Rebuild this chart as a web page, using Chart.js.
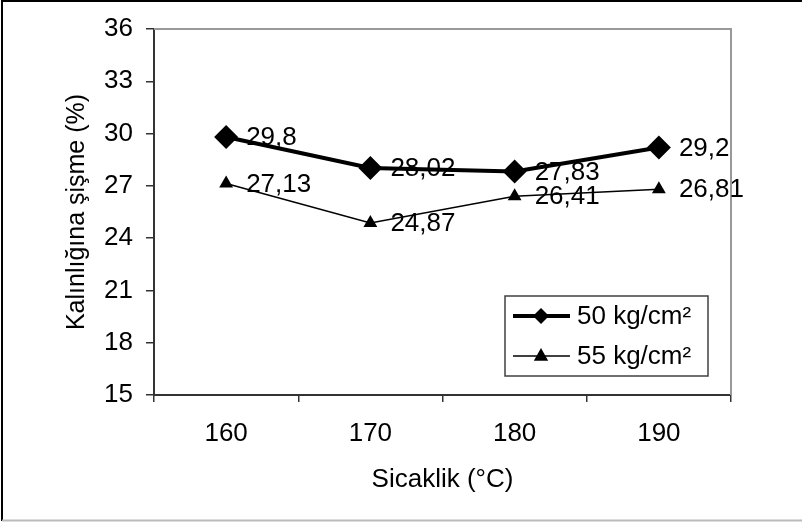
<!DOCTYPE html>
<html>
<head>
<meta charset="utf-8">
<script src="https://cdn.jsdelivr.net/npm/chart.js@4.4.1/dist/chart.umd.min.js"></script>
<style>
  body { margin: 0; background: #fff; }
  canvas { display: block; }
</style>
</head>
<body>
<canvas id="chart" width="802" height="522"></canvas>
<script>
// Data
const temperatures = ['160', '170', '180', '190'];
const series50 = [29.8, 28.02, 27.83, 29.2];
const series55 = [27.13, 24.87, 26.41, 26.81];
const seriesNames = ['50 kg/cm²', '55 kg/cm²'];
const yTicks = [15, 18, 21, 24, 27, 30, 33, 36];

const FONT = "'Liberation Sans', Arial, sans-serif";

// White background + outer frame
const framePlugin = {
    id: 'frame',
    beforeDraw(chart) {
        const ctx = chart.ctx;
        ctx.save();
        ctx.fillStyle = '#fff';
        ctx.fillRect(0, 0, chart.width, chart.height);
        ctx.restore();
    },
    beforeDatasetsDraw(chart) {
        // gray top and right edge of the plot area
        const { ctx, chartArea: a } = chart;
        ctx.save();
        ctx.strokeStyle = '#999';
        ctx.lineWidth = 2;
        ctx.beginPath();
        ctx.moveTo(a.left, a.top);
        ctx.lineTo(a.right, a.top);
        ctx.lineTo(a.right, a.bottom);
        ctx.stroke();
        ctx.restore();
    },
    afterDraw(chart) {
        const ctx = chart.ctx;
        ctx.save();
        ctx.lineWidth = 2;
        ctx.strokeStyle = '#000';
        ctx.beginPath();
        ctx.moveTo(2, chart.height - 1);
        ctx.lineTo(2, 1);
        ctx.lineTo(chart.width, 1);
        ctx.stroke();
        ctx.strokeStyle = '#bbb';
        ctx.beginPath();
        ctx.moveTo(2, chart.height - 1.5);
        ctx.lineTo(chart.width, chart.height - 1.5);
        ctx.stroke();
        ctx.restore();
    }
};

// Value labels to the right of each point, with decimal comma
const valueLabels = {
    id: 'valueLabels',
    afterDatasetsDraw(chart) {
        const ctx = chart.ctx;
        ctx.save();
        ctx.font = '26px ' + FONT;
        ctx.fillStyle = '#000';
        ctx.textAlign = 'left';
        ctx.textBaseline = 'middle';
        chart.data.datasets.forEach((ds, i) => {
            chart.getDatasetMeta(i).data.forEach((pt, j) => {
                const txt = String(ds.data[j]).replace('.', ',');
                ctx.fillText(txt, pt.x + 20, pt.y + 1);
            });
        });
        ctx.restore();
    }
};

// Legend box inside the plot
const boxLegend = {
    id: 'boxLegend',
    afterDraw(chart) {
        const ctx = chart.ctx;
        const x0 = 505, y0 = 296, w = 203, h = 80;
        ctx.save();
        ctx.fillStyle = '#fff';
        ctx.fillRect(x0, y0, w, h);
        ctx.strokeStyle = '#404040';
        ctx.lineWidth = 1.5;
        ctx.strokeRect(x0, y0, w, h);

        const rows = [y0 + 20, y0 + 60];
        chart.data.datasets.forEach((ds, i) => {
            const y = rows[i];
            ctx.strokeStyle = '#000';
            ctx.lineWidth = ds.borderWidth;
            ctx.beginPath();
            ctx.moveTo(513, y);
            ctx.lineTo(570, y);
            ctx.stroke();
            ctx.fillStyle = '#000';
            ctx.beginPath();
            if (ds.pointStyle === 'rectRot') {
                const r = 8;
                ctx.moveTo(541, y - r);
                ctx.lineTo(541 + r, y);
                ctx.lineTo(541, y + r);
                ctx.lineTo(541 - r, y);
            } else {
                const r = 8;
                ctx.moveTo(541, y - r);
                ctx.lineTo(541 + r * 0.9, y + r * 0.6);
                ctx.lineTo(541 - r * 0.9, y + r * 0.6);
            }
            ctx.closePath();
            ctx.fill();
            ctx.font = '26px ' + FONT;
            ctx.textAlign = 'left';
            ctx.textBaseline = 'middle';
            ctx.fillText(ds.label, 577, y + 1);
        });
        ctx.restore();
    }
};

new Chart(document.getElementById('chart'), {
    type: 'line',
    data: {
        labels: temperatures,
        datasets: [
            {
                label: seriesNames[0],
                data: series50,
                borderColor: '#000',
                backgroundColor: '#000',
                borderWidth: 4,
                pointStyle: 'rectRot',
                pointRadius: 12,
                pointBorderWidth: 0,
                tension: 0
            },
            {
                label: seriesNames[1],
                data: series55,
                borderColor: '#000',
                backgroundColor: '#000',
                borderWidth: 1.5,
                pointStyle: 'triangle',
                pointRadius: 8,
                pointBorderWidth: 0,
                tension: 0
            }
        ]
    },
    options: {
        responsive: false,
        animation: false,
        events: [],
        layout: { padding: { top: 29, right: 71, left: 62, bottom: 0 } },
        plugins: {
            legend: { display: false },
            tooltip: { enabled: false }
        },
        scales: {
            x: {
                offset: true,
                grid: { offset: true, drawOnChartArea: false, tickLength: 7, color: '#333', lineWidth: 1.5 },
                border: { color: '#333', width: 2 },
                ticks: { color: '#000', font: { family: FONT, size: 26 }, padding: 16, maxRotation: 0 },
                title: {
                    display: true,
                    text: 'Sicaklik (°C)',
                    color: '#000',
                    font: { family: FONT, size: 26 },
                    padding: { top: 0, bottom: 27 }
                },
                afterFit(scale) { scale.height = 127; }
            },
            y: {
                min: 15,
                max: 36,
                afterBuildTicks(scale) { scale.ticks = yTicks.map(v => ({ value: v })); },
                grid: { drawOnChartArea: false, tickLength: 8, color: '#333', lineWidth: 1.5 },
                border: { color: '#333', width: 2 },
                ticks: { color: '#000', font: { family: FONT, size: 26 }, padding: 13 },
                title: {
                    display: true,
                    text: 'Kalınlığına şişme (%)',
                    color: '#000',
                    font: { family: FONT, size: 25 },
                    padding: { top: 0, bottom: 0 }
                },
                afterFit(scale) { scale.width = 92; }
            }
        }
    },
    plugins: [framePlugin, valueLabels, boxLegend]
});
</script>
</body>
</html>
